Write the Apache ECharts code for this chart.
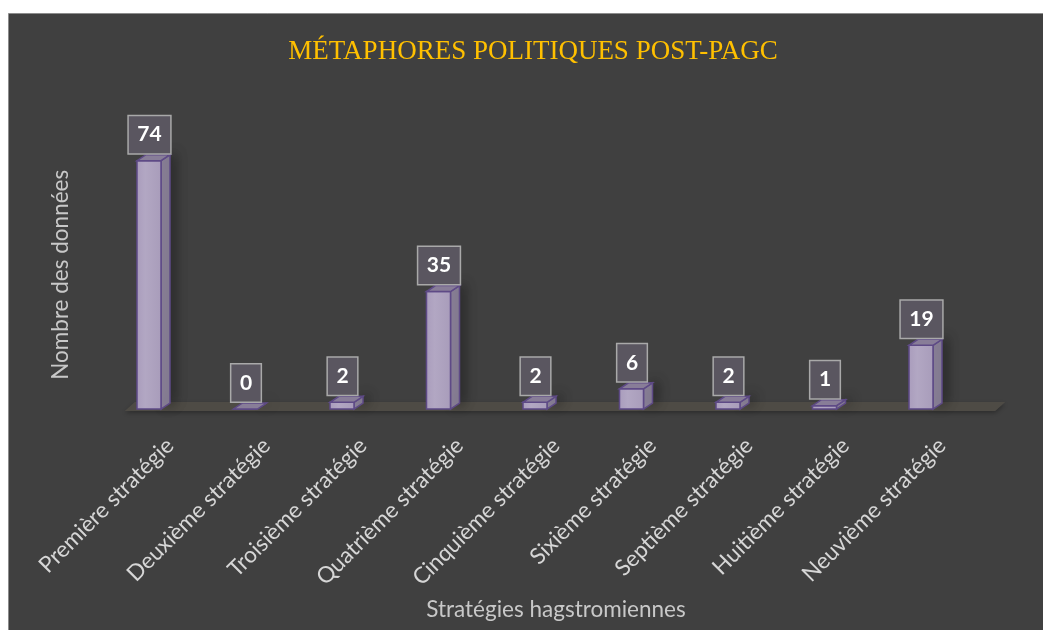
<!DOCTYPE html>
<html>
<head>
<meta charset="utf-8">
<script src="https://cdn.jsdelivr.net/npm/echarts@6/dist/echarts.min.js"></script>
<style>
html,body{margin:0;padding:0;background:#ffffff;}
#c{width:1043px;height:630px;}
</style>
</head>
<body>
<div id="c"></div>
<script>
const categories = [
  'Première stratégie', 'Deuxième stratégie', 'Troisième stratégie',
  'Quatrième stratégie', 'Cinquième stratégie', 'Sixième stratégie',
  'Septième stratégie', 'Huitième stratégie', 'Neuvième stratégie'
];
const values = [74, 0, 2, 35, 2, 6, 2, 1, 19];
const chartTitle = 'MÉTAPHORES POLITIQUES POST-PAGC';
const yAxisTitle = 'Nombre des données';
const xAxisTitle = 'Stratégies hagstromiennes';
const yMin = 0;
const yMax = 80;

const BORDER = '#5e4a86';
const chart = echarts.init(document.getElementById('c'), null, {renderer: 'canvas'});

function renderFloor(params, api) {
  const cs = params.coordSys;
  const y0 = cs.y + cs.height;
  const x = cs.x, w = cs.width;
  return {
    type: 'polygon',
    shape: {points: [[x + 3, y0 + 2], [x + w + 5, y0 + 2], [x + w + 15, y0 - 7], [x + 13, y0 - 7]]},
    style: {fill: '#4e4b45', shadowBlur: 4, shadowColor: 'rgba(0,0,0,0.3)', shadowOffsetY: 2},
    silent: true
  };
}

function renderBar(params, api) {
  const idx = api.value(0);
  const v = api.value(1);
  const base = api.coord([idx, 0]);
  const top = api.coord([idx, v]);
  const cx = base[0];
  const x0 = cx - 33, x1 = cx - 9;
  const dx = 9, dy = 6;
  const yb = base[1], yt = top[1];
  const frontFill = new echarts.graphic.LinearGradient(0, 0, 1, 0, [
    {offset: 0, color: '#a99cbc'},
    {offset: 0.35, color: '#b2a7c3'},
    {offset: 1, color: '#a89cba'}
  ]);
  return {
    type: 'group',
    children: [
      {
        type: 'polygon',
        shape: {points: [[x1, yt], [x1 + dx, yt - dy], [x1 + dx, yb - dy], [x1, yb]]},
        style: {fill: '#8b8299', stroke: BORDER, lineWidth: 1.5,
                shadowBlur: 12, shadowColor: 'rgba(0,0,0,0.35)', shadowOffsetX: 5, shadowOffsetY: -2}
      },
      {
        type: 'rect',
        shape: {x: x0, y: yt, width: x1 - x0, height: yb - yt},
        style: {fill: frontFill, stroke: BORDER, lineWidth: 1.5}
      },
      {
        type: 'polygon',
        shape: {points: [[x0, yt], [x1, yt], [x1 + dx, yt - dy], [x0 + dx, yt - dy]]},
        style: {fill: '#887d98', stroke: BORDER, lineWidth: 1.5}
      },
      {
        type: 'text',
        x: (x0 + x1) / 2 + 0.5,
        y: yt - 7.5,
        z2: 10,
        style: {
          text: String(v),
          fill: '#ffffff',
          font: 'bold 21px Lato',
          lineHeight: 21,
          align: 'center',
          verticalAlign: 'bottom',
          backgroundColor: '#5a5660',
          borderColor: '#a9a9a9',
          borderWidth: 1.5,
          padding: [8, 8.5, 8, 8.5],
          boxShadowBlur: 10,
          boxShadowColor: 'rgba(0,0,0,0.45)',
          boxShadowOffsetX: 5,
          boxShadowOffsetY: 2
        }
      }
    ]
  };
}

const option = {
  backgroundColor: 'transparent',
  animation: false,
  graphic: [{
    type: 'rect',
    z: -10,
    silent: true,
    shape: {x: 8.5, y: 13.5, width: 1045, height: 625},
    style: {fill: '#404040', stroke: '#8c8c8c', lineWidth: 1}
  }],
  title: {
    text: chartTitle,
    left: 528,
    textAlign: 'center',
    top: 33,
    textStyle: {color: '#ffc000', fontFamily: 'Liberation Serif', fontWeight: 'normal', fontSize: 27}
  },
  grid: {left: 121.75, right: 52.75, top: 140.6, bottom: 221, containLabel: false},
  xAxis: {
    type: 'category',
    data: categories,
    name: xAxisTitle,
    nameLocation: 'middle',
    nameGap: 189,
    nameTextStyle: {color: '#c8c8c8', fontFamily: 'Lato', fontSize: 22.5},
    axisLine: {show: false},
    axisTick: {show: false},
    axisLabel: {interval: 0, rotate: 45, margin: 33, color: '#d6d6d6', fontFamily: 'Lato', fontSize: 22.5}
  },
  yAxis: {
    type: 'value',
    min: yMin,
    max: yMax,
    name: yAxisTitle,
    nameLocation: 'middle',
    nameGap: 50,
    nameTextStyle: {color: '#c8c8c8', fontFamily: 'Lato', fontSize: 22.5},
    axisLine: {show: false},
    axisTick: {show: false},
    axisLabel: {show: false},
    splitLine: {show: false}
  },
  series: [
    {
      type: 'custom',
      renderItem: renderFloor,
      data: [[0, 0]],
      clip: false,
      silent: true,
      z: 1
    },
    {
      type: 'custom',
      renderItem: renderBar,
      data: values.map((v, i) => [i, v]),
      encode: {x: 0, y: 1},
      clip: false,
      z: 2
    }
  ]
};
chart.setOption(option);
</script>
</body>
</html>
